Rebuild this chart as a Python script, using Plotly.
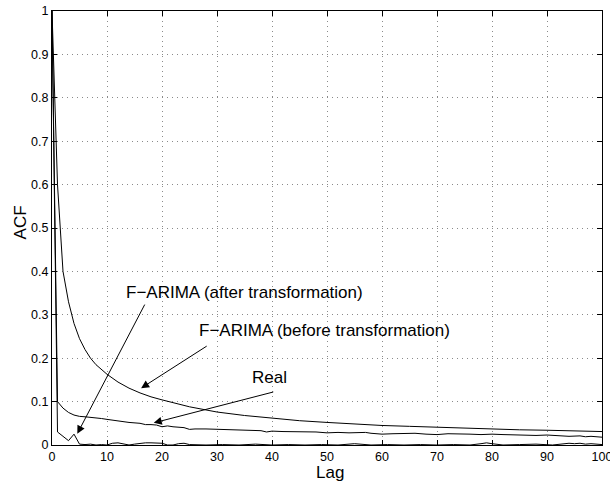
import plotly.graph_objects as go

# ---------------- data ----------------
before_lag = [0, 1, 2, 3, 4, 5, 6, 7, 8, 9, 10, 12, 14, 16, 18, 20, 22, 25, 30, 35,
              40, 45, 50, 55, 60, 65, 70, 75, 80, 85, 90, 95, 100]
before_acf = [1.0, 0.60, 0.40, 0.33, 0.28, 0.245, 0.22, 0.20, 0.185, 0.173, 0.163,
              0.145, 0.131, 0.120, 0.111, 0.104, 0.098, 0.088, 0.076, 0.068,
              0.062, 0.056, 0.052, 0.048, 0.045, 0.043, 0.041, 0.038, 0.036,
              0.035, 0.034, 0.032, 0.031]

real_lag = [0, 1, 2, 3, 4, 5, 6, 7, 8, 9, 10, 12, 14, 16, 17, 18, 19, 20, 21, 22,
            24, 25, 26, 28, 30, 32, 34, 36, 38, 39, 40, 42, 44, 46, 48, 50, 52,
            54, 56, 57, 58, 60, 62, 64, 66, 68, 70, 72, 74, 76, 78, 80, 82, 84,
            86, 88, 90, 92, 94, 96, 97, 98, 100]
real_acf = [1.0, 0.100, 0.085, 0.075, 0.069, 0.066, 0.065, 0.064, 0.063, 0.061,
            0.059, 0.055, 0.052, 0.050, 0.047, 0.047, 0.046, 0.042, 0.044, 0.042,
            0.040, 0.036, 0.037, 0.037, 0.036, 0.035, 0.034, 0.033, 0.033, 0.030,
            0.032, 0.031, 0.031, 0.030, 0.030, 0.028, 0.029, 0.028, 0.028, 0.029,
            0.027, 0.025, 0.026, 0.026, 0.027, 0.025, 0.024, 0.026, 0.026, 0.025,
            0.024, 0.025, 0.024, 0.023, 0.022, 0.022, 0.023, 0.021, 0.020, 0.021,
            0.019, 0.020, 0.018]

after_lag = [0, 1, 2, 3, 4, 5, 6, 7, 8, 9, 10, 11, 12, 13, 14, 15, 16, 17, 18, 19,
             20, 21, 22, 23, 24, 25, 28, 31, 34, 37, 40, 43, 46, 49, 52, 54, 55,
             56, 58, 61, 64, 67, 70, 73, 76, 78, 79, 80, 82, 85, 88, 91, 93, 94,
             95, 96, 97, 98, 100]
after_acf = [1.0, 0.030, 0.020, 0.010, 0.025, 0.002, 0.001, 0.002, 0.000, 0.001,
             0.000, 0.004, 0.005, 0.003, 0.000, 0.002, 0.004, 0.005, 0.005, 0.005,
             0.004, 0.000, 0.000, 0.003, 0.004, 0.001, 0.000, 0.001, 0.000, 0.002,
             0.000, 0.001, 0.000, 0.001, 0.000, 0.002, 0.003, 0.002, 0.000, 0.001,
             0.000, 0.001, 0.000, 0.001, 0.000, 0.003, 0.005, 0.003, 0.000, 0.001,
             0.002, 0.000, 0.002, 0.004, 0.003, 0.004, 0.002, 0.003, 0.001]

x_ticks = [0, 10, 20, 30, 40, 50, 60, 70, 80, 90, 100]
x_ticktext = ["0", "10", "20", "30", "40", "50", "60", "70", "80", "90", "100"]
y_ticks = [0, 0.1, 0.2, 0.3, 0.4, 0.5, 0.6, 0.7, 0.8, 0.9, 1.0]
y_ticktext = ["0", "0.1", "0.2", "0.3", "0.4", "0.5", "0.6", "0.7", "0.8", "0.9", "1"]

label_after = "F\u2212ARIMA (after transformation)"
label_before = "F\u2212ARIMA (before transformation)"
label_real = "Real"

# ---------------- figure ----------------
FONT = "Liberation Sans, Arial, Helvetica, sans-serif"
line_style = dict(color="black", width=1)

fig = go.Figure()
fig.add_trace(go.Scatter(x=before_lag, y=before_acf, mode="lines", line=line_style,
                         name=label_before))
fig.add_trace(go.Scatter(x=real_lag, y=real_acf, mode="lines", line=line_style,
                         name=label_real))
fig.add_trace(go.Scatter(x=after_lag, y=after_acf, mode="lines", line=line_style,
                         name=label_after))

axis_common = dict(
    showline=True, linecolor="black", linewidth=1, mirror="allticks",
    ticks="inside", ticklen=5, tickwidth=1, tickcolor="black",
    showgrid=True, gridcolor="#8a8a8a", gridwidth=1, griddash="1px,4px",
    zeroline=False, ticklabeloverflow="allow", automargin=False,
    tickfont=dict(family=FONT, size=12.5, color="black"),
)

fig.update_layout(
    width=610, height=481,
    margin=dict(l=52, r=8, t=11, b=36, autoexpand=False),
    paper_bgcolor="white", plot_bgcolor="white",
    showlegend=False,
    font=dict(family=FONT, color="black"),
    xaxis=dict(range=[0, 100], tickvals=x_ticks, ticktext=x_ticktext, **axis_common),
    yaxis=dict(range=[0, 1], tickvals=y_ticks, ticktext=y_ticktext, **axis_common),
)

text_font = dict(family=FONT, size=17, color="black")

# axis titles
fig.add_annotation(text="Lag", xref="paper", yref="paper", x=0.505, y=-0.063,
                   xanchor="center", yanchor="middle", showarrow=False, font=text_font)
fig.add_annotation(text="ACF", xref="paper", yref="paper", x=-0.057, y=0.512,
                   xanchor="center", yanchor="middle", textangle=-90, showarrow=False,
                   font=text_font)

# text labels
fig.add_annotation(text=label_after, x=35.0, y=0.352, xref="x", yref="y",
                   xanchor="center", yanchor="middle", showarrow=False, font=text_font)
fig.add_annotation(text=label_before, x=49.5, y=0.263, xref="x", yref="y",
                   xanchor="center", yanchor="middle", showarrow=False, font=text_font)
fig.add_annotation(text=label_real, x=39.6, y=0.156, xref="x", yref="y",
                   xanchor="center", yanchor="middle", showarrow=False, font=text_font)

# arrows (tail -> head)
arrows = [
    dict(tail=(17.0, 0.327), head=(4.6, 0.026)),
    dict(tail=(28.4, 0.230), head=(16.2, 0.131)),
    dict(tail=(40.5, 0.123), head=(18.5, 0.051)),
]
for a in arrows:
    fig.add_annotation(text="", x=a["head"][0], y=a["head"][1], ax=a["tail"][0],
                       ay=a["tail"][1], xref="x", yref="y", axref="x", ayref="y",
                       showarrow=True, arrowhead=2, arrowsize=1.6, arrowwidth=1,
                       arrowcolor="black", standoff=0, startstandoff=0)

fig.write_html("out.html")
